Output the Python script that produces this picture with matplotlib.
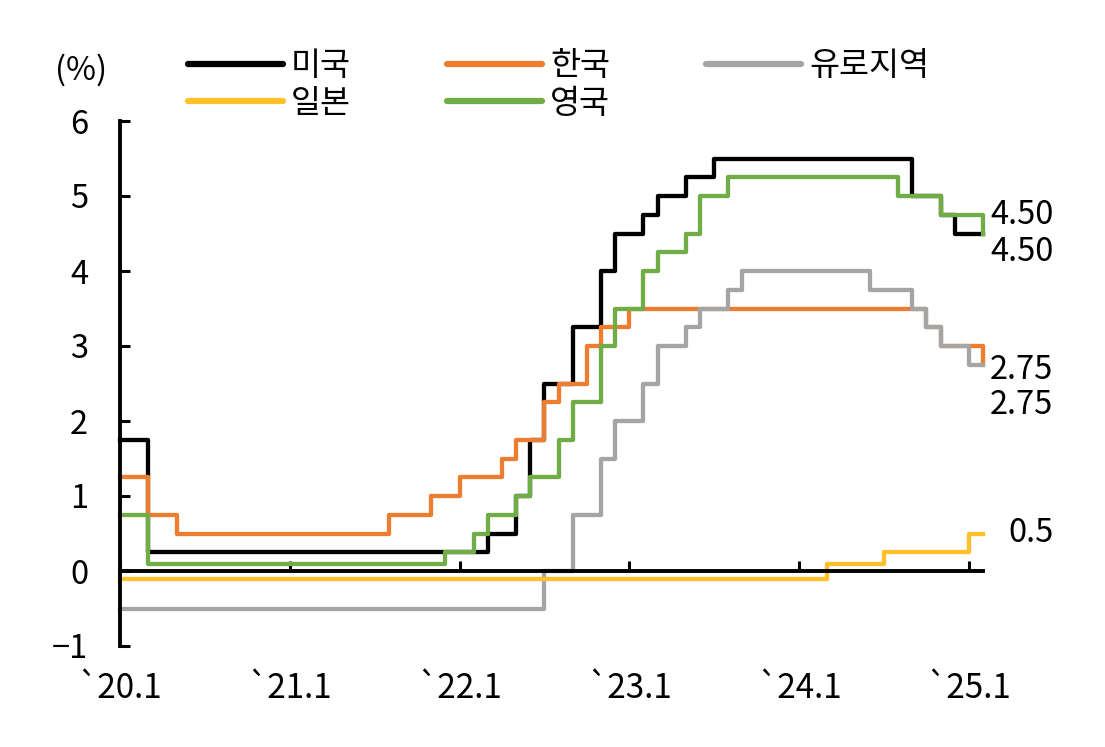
import matplotlib
matplotlib.use("Agg")
import matplotlib.pyplot as plt

plt.rcParams['font.family'] = ['Noto Sans CJK KR', 'DejaVu Sans']

# month index: 0 = 2020.1, step changes (month, rate %)
us_months = [0, 2, 26, 28, 29, 30, 32, 34, 35, 37, 38, 40, 42, 56, 58, 59, 61]
us_rates = [1.75, 0.25, 0.5, 1.0, 1.75, 2.5, 3.25, 4.0, 4.5, 4.75, 5.0, 5.25, 5.5, 5.0, 4.75, 4.5, 4.5]

kr_months = [0, 2, 4, 19, 22, 24, 27, 28, 30, 31, 33, 34, 36, 57, 58, 61]
kr_rates = [1.25, 0.75, 0.5, 0.75, 1.0, 1.25, 1.5, 1.75, 2.25, 2.5, 3.0, 3.25, 3.5, 3.25, 3.0, 2.75]

eu_months = [0, 30, 32, 34, 35, 37, 38, 40, 41, 43, 44, 53, 56, 57, 58, 60, 61]
eu_rates = [-0.5, 0.0, 0.75, 1.5, 2.0, 2.5, 3.0, 3.25, 3.5, 3.75, 4.0, 3.75, 3.5, 3.25, 3.0, 2.75, 2.75]

jp_months = [0, 50, 54, 60, 61]
jp_rates = [-0.1, 0.1, 0.25, 0.5, 0.5]

uk_months = [0, 2, 23, 25, 26, 28, 29, 31, 32, 34, 35, 37, 38, 40, 41, 43, 55, 58, 61]
uk_rates = [0.75, 0.1, 0.25, 0.5, 0.75, 1.0, 1.25, 1.75, 2.25, 3.0, 3.5, 4.0, 4.25, 4.5, 5.0, 5.25, 5.0, 4.75, 4.5]

tick_pos = [0, 12, 24, 36, 48, 60]
tick_labels = ["`20.1", "`21.1", "`22.1", "`23.1", "`24.1", "`25.1"]

# end labels: (text, y value, x offset pt, y offset pt)
end_labels = [("4.50", 4.5, 5, 13), ("4.50", 4.5, 5, -13.5),
              ("2.75", 2.75, 5, -3.5), ("2.75", 2.75, 5, -29),
              ("0.5", 0.5, 18, 0)]

fs = 23.5

fig = plt.figure(figsize=(11.05, 7.47), dpi=100)
ax = fig.add_axes([120 / 1105, 1 - 646 / 747, (983 - 120) / 1105, (646 - 121) / 747])

lw = 3.1
l_us, = ax.step(us_months, us_rates, where="post", color="#000000", lw=lw, clip_on=False, label="미국")
l_kr, = ax.step(kr_months, kr_rates, where="post", color="#ED7D31", lw=lw, clip_on=False, label="한국")
l_uk, = ax.step(uk_months, uk_rates, where="post", color="#70AD47", lw=lw, clip_on=False, label="영국")
l_eu, = ax.step(eu_months, eu_rates, where="post", color="#A5A5A5", lw=lw, clip_on=False, label="유로지역")
l_jp, = ax.step(jp_months, jp_rates, where="post", color="#FFC02A", lw=lw, clip_on=False, label="일본")

ax.set_xlim(0, 61)
ax.set_ylim(-1, 6)

for s in ["top", "right"]:
    ax.spines[s].set_visible(False)
ax.spines["bottom"].set_position(("data", 0))
ax.spines["bottom"].set_linewidth(2.8)
ax.spines["left"].set_linewidth(2.8)

ax.set_xticks(tick_pos)
ax.tick_params(axis="x", direction="in", length=7, width=2.2, labelbottom=False)
ax.set_yticks(range(-1, 7))
ax.set_yticklabels(["−1", "0", "1", "2", "3", "4", "5", "6"])
ax.tick_params(axis="y", direction="in", length=7, width=2.2, pad=23, labelsize=fs)

sec = ax.secondary_xaxis("bottom")
sec.spines["bottom"].set_visible(False)
sec.set_xticks(tick_pos, labels=tick_labels)
sec.tick_params(length=0, pad=18, labelsize=fs + 0.5)

for txt, yv, dx, dy in end_labels:
    ax.annotate(txt, xy=(61, yv), xytext=(dx, dy), textcoords="offset points",
                ha="left", va="center", fontsize=fs, annotation_clip=False)

fig.text(55 / 1105, 1 - 70 / 747, "(%)", fontsize=fs, ha="left", va="center")

handles = [l_us, l_jp, l_kr, l_uk, l_eu]
leg = fig.legend(handles=handles, labels=[h.get_label() for h in handles], ncol=3,
                 loc="upper left", bbox_to_anchor=(188 / 1105, 1 - 50 / 747),
                 frameon=False, fontsize=fs, handlelength=2.9, handletextpad=0.25,
                 columnspacing=2.95, labelspacing=0.18, borderpad=0, borderaxespad=0)
for h in leg.get_lines():
    h.set_linewidth(4.5)
    h.set_solid_capstyle("round")

fig.savefig("out.png", dpi=100)
